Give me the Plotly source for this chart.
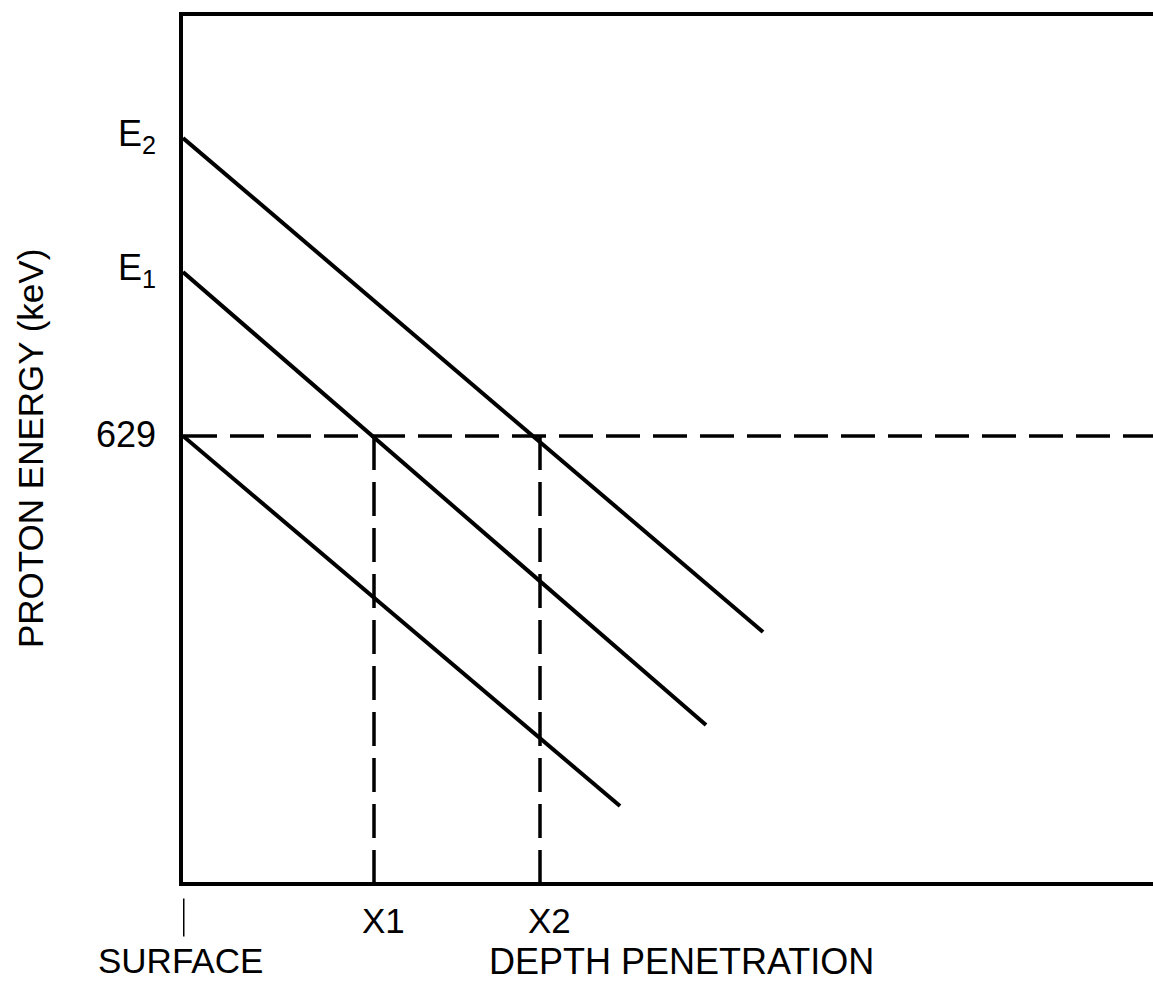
import plotly.graph_objects as go

# Proton energy vs. depth: three beams slowing down in the target,
# with the 629 keV resonance level marked as a dashed line.
start_energy = [778, 711, 629]          # keV at the surface (E2, E1, 629)
end_depth = [5.80, 5.23, 4.37]          # depth where each drawn line stops
end_energy = [531, 484.5, 444]          # keV at that depth
resonance_energy = 629
x_depths = [1.91, 3.57]                 # X1, X2
x_labels = ["X1", "X2"]
y_tick_labels = ["E<sub>2</sub>", "E<sub>1</sub>", "629"]

x_range = [0, 9.7]
y_range = [406, 839]

FONT = "Liberation Sans, Arial, sans-serif"


def font(size):
    return dict(family=FONT, size=size, color="black")


fig = go.Figure()

for e0, xd, e1 in zip(start_energy, end_depth, end_energy):
    fig.add_trace(go.Scatter(x=[0, xd], y=[e0, e1], mode="lines",
                             line=dict(color="black", width=4),
                             hoverinfo="skip"))

# resonance level
fig.add_trace(go.Scatter(x=[x_range[0], x_range[1]],
                         y=[resonance_energy, resonance_energy], mode="lines",
                         line=dict(color="black", width=3.5, dash="34px,13px"),
                         hoverinfo="skip"))

# drop lines to X1 and X2
for xd in x_depths:
    fig.add_trace(go.Scatter(x=[xd, xd], y=[resonance_energy, y_range[0]],
                             mode="lines",
                             line=dict(color="black", width=3.5, dash="34px,12px"),
                             hoverinfo="skip"))

ann = []
for lab, e0 in zip(y_tick_labels, start_energy):
    ann.append(dict(x=0, xref="paper", y=e0, yref="y", text=lab,
                    xanchor="right", yanchor="middle", xshift=-25, yshift=2,
                    showarrow=False, font=font(36)))
for lab, xd in zip(x_labels, x_depths):
    ann.append(dict(x=xd, xref="x", y=0, yref="paper", text=lab,
                    xanchor="center", yanchor="top", xshift=9, yshift=-17,
                    showarrow=False, font=font(35)))
ann.append(dict(x=0, xref="x", y=0, yref="paper", text="SURFACE",
                xanchor="center", yanchor="top", xshift=-3, yshift=-57,
                showarrow=False, font=font(35)))
ann.append(dict(x=5.0, xref="x", y=0, yref="paper", text="DEPTH PENETRATION",
                xanchor="center", yanchor="top", xshift=-2, yshift=-57,
                showarrow=False, font=font(36)))
ann.append(dict(x=0, xref="paper", y=0.5, yref="paper", text="PROTON ENERGY (keV)",
                textangle=-90, xanchor="center", yanchor="middle", xshift=-153,
                showarrow=False, font=font(35)))

fig.update_layout(
    width=1153, height=986,
    margin=dict(l=183, r=0, t=16, b=104),
    paper_bgcolor="white", plot_bgcolor="white",
    showlegend=False,
    annotations=ann,
    shapes=[dict(type="line", xref="x", yref="paper", x0=0, x1=0,
                 y0=-0.019, y1=-0.063, line=dict(color="black", width=3))],
    xaxis=dict(range=x_range, showgrid=False, zeroline=False, showticklabels=False,
               ticks="", showline=True, linecolor="black", linewidth=4, mirror=True),
    yaxis=dict(range=y_range, showgrid=False, zeroline=False, showticklabels=False,
               ticks="", showline=True, linecolor="black", linewidth=3.5),
)

fig.write_html("out.html")
